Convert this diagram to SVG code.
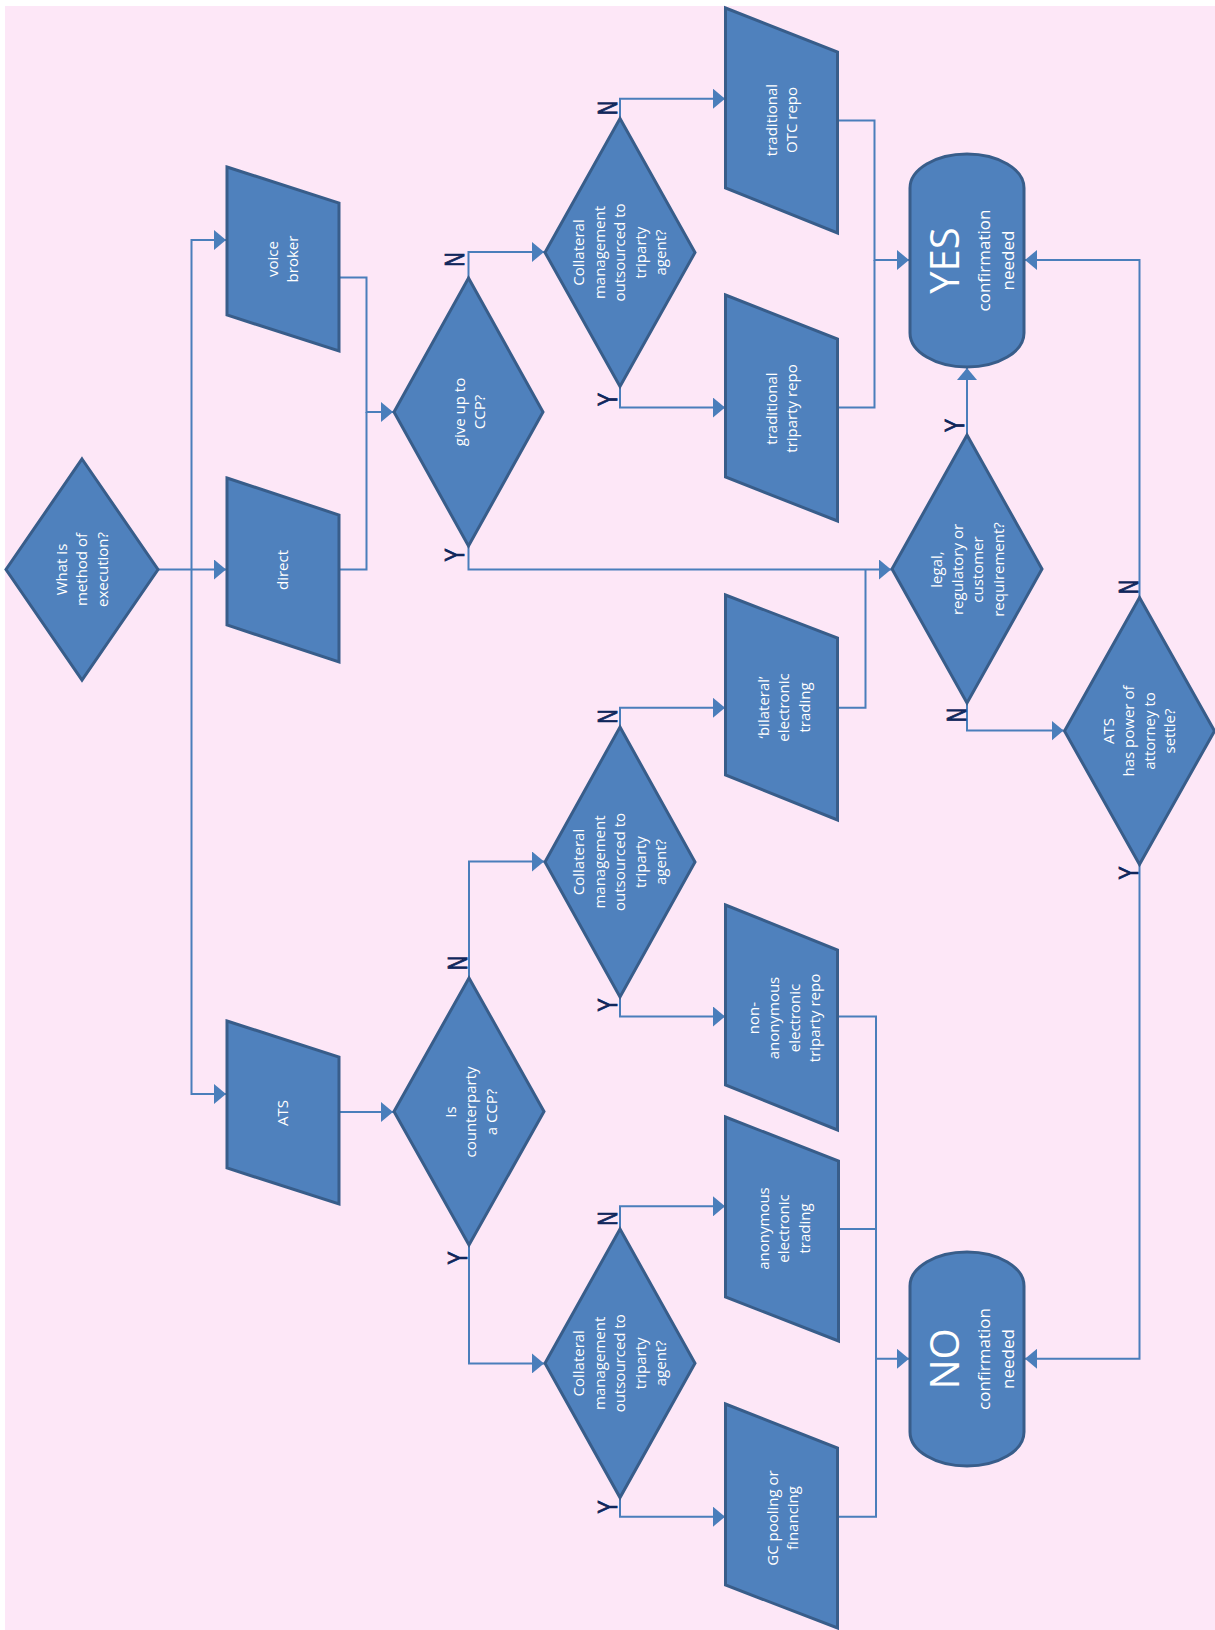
<svg xmlns="http://www.w3.org/2000/svg" width="1215" height="1630" viewBox="0 0 1215 1630">
<style>
.shape{fill:#4F81BD;stroke:#385D8A;stroke-width:3;stroke-linejoin:miter}
.t{fill:#FFFFFF;font-family:"Open Sans","Liberation Sans",sans-serif;font-size:15px;text-anchor:middle}
.big{font-size:40px}
.mid{font-size:17px}
.conn{fill:none;stroke:#4A7EBB;stroke-width:2}
.lbl{fill:#10275C;stroke:#10275C;stroke-width:0.9;font-family:"Liberation Sans","DejaVu Sans",sans-serif;font-size:28px;text-anchor:middle}
</style>
<defs>
<marker id="arr" viewBox="0 0 12 20" refX="12" refY="10" markerWidth="12" markerHeight="20" markerUnits="userSpaceOnUse" orient="auto">
<path d="M0,0 L12,10 L0,20 Z" fill="#4A7EBB"/>
</marker>
</defs>
<rect x="0" y="0" width="1215" height="1630" fill="#FFFFFF"/>
<rect x="5" y="6" width="1210" height="1624" fill="#FDE7F7"/>

<g id="connectors">
<path class="conn" d="M158,569.5 H226" marker-end="url(#arr)"/>
<path class="conn" d="M191.5,569.5 V240 H226" marker-end="url(#arr)"/>
<path class="conn" d="M191.5,569.5 V1094 H226" marker-end="url(#arr)"/>
<path class="conn" d="M339,277.5 H366.5 V412 H393" marker-end="url(#arr)"/>
<path class="conn" d="M339,569.5 H366.5 V412"/>
<path class="conn" d="M468.5,278 V252 H544" marker-end="url(#arr)"/>
<path class="conn" d="M468.5,546 V569.5 H891" marker-end="url(#arr)"/>
<path class="conn" d="M620,118.5 V98.7 H725" marker-end="url(#arr)"/>
<path class="conn" d="M620,386.5 V407.6 H725" marker-end="url(#arr)"/>
<path class="conn" d="M837.5,120.5 H874.5 V260 H909" marker-end="url(#arr)"/>
<path class="conn" d="M837.5,407.6 H874.5 V260"/>
<path class="conn" d="M837.5,707.8 H865.5 V569.5"/>
<path class="conn" d="M967,435 V368" marker-end="url(#arr)"/>
<path class="conn" d="M967,703 V730.6 H1063.5" marker-end="url(#arr)"/>
<path class="conn" d="M1139.5,597.5 V260 H1025" marker-end="url(#arr)"/>
<path class="conn" d="M1139.5,864.5 V1358.8 H1025" marker-end="url(#arr)"/>
<path class="conn" d="M339,1112 H393" marker-end="url(#arr)"/>
<path class="conn" d="M469,978 V861.5 H544" marker-end="url(#arr)"/>
<path class="conn" d="M469,1245 V1363.4 H544" marker-end="url(#arr)"/>
<path class="conn" d="M620,727 V707.8 H725" marker-end="url(#arr)"/>
<path class="conn" d="M620,997 V1016.5 H725" marker-end="url(#arr)"/>
<path class="conn" d="M837.5,1016.5 H876 V1358.8 H909" marker-end="url(#arr)"/>
<path class="conn" d="M838.5,1229 H876"/>
<path class="conn" d="M837.5,1516.7 H876 V1358.8"/>
<path class="conn" d="M620,1229 V1206.3 H725" marker-end="url(#arr)"/>
<path class="conn" d="M620,1497.6 V1516.7 H725" marker-end="url(#arr)"/>
</g>

<g id="edge-labels">
<text class="lbl" transform="translate(453.5,259.5) rotate(-90) scale(0.7,1)" y="10">N</text>
<text class="lbl" transform="translate(453.5,555) rotate(-90) scale(0.7,1)" y="10">Y</text>
<text class="lbl" transform="translate(607,108) rotate(-90) scale(0.7,1)" y="10">N</text>
<text class="lbl" transform="translate(607,399.5) rotate(-90) scale(0.7,1)" y="10">Y</text>
<text class="lbl" transform="translate(456.5,963) rotate(-90) scale(0.7,1)" y="10">N</text>
<text class="lbl" transform="translate(456.5,1258) rotate(-90) scale(0.7,1)" y="10">Y</text>
<text class="lbl" transform="translate(607,716.5) rotate(-90) scale(0.7,1)" y="10">N</text>
<text class="lbl" transform="translate(607,1005) rotate(-90) scale(0.7,1)" y="10">Y</text>
<text class="lbl" transform="translate(607,1218.5) rotate(-90) scale(0.7,1)" y="10">N</text>
<text class="lbl" transform="translate(607,1507) rotate(-90) scale(0.7,1)" y="10">Y</text>
<text class="lbl" transform="translate(954,425.5) rotate(-90) scale(0.7,1)" y="10">Y</text>
<text class="lbl" transform="translate(955.5,715) rotate(-90) scale(0.7,1)" y="10">N</text>
<text class="lbl" transform="translate(1127.5,587) rotate(-90) scale(0.7,1)" y="10">N</text>
<text class="lbl" transform="translate(1127.5,873) rotate(-90) scale(0.7,1)" y="10">Y</text>
</g>

<g id="start">
<polygon class="shape" points="82,459 158,569.5 82,680 6,569.5"/>
<text class="t" transform="translate(82,569.5) rotate(-90)"><tspan x="0" y="-15.5">What is</tspan><tspan x="0" y="5">method of</tspan><tspan x="0" y="25.5">execution?</tspan></text>
</g>

<g id="voice-broker">
<polygon class="shape" points="227,167 339,203 339,351 227,315"/>
<text class="t" transform="translate(283,259) rotate(-90)"><tspan x="0" y="-5.25">voice</tspan><tspan x="0" y="15.25">broker</tspan></text>
</g>

<g id="direct">
<polygon class="shape" points="227,478 339,515 339,662 227,625"/>
<text class="t" transform="translate(283,570) rotate(-90)"><tspan x="0" y="5">direct</tspan></text>
</g>

<g id="ats">
<polygon class="shape" points="227,1021 339,1057 339,1204 227,1168"/>
<text class="t" transform="translate(283,1113) rotate(-90)"><tspan x="0" y="5">ATS</tspan></text>
</g>

<g id="give-up">
<polygon class="shape" points="468.5,278 543,412 468.5,546 394,412"/>
<text class="t" transform="translate(470,412) rotate(-90)"><tspan x="0" y="-5.25">give up to</tspan><tspan x="0" y="15.25">CCP?</tspan></text>
</g>

<g id="is-ccp">
<polygon class="shape" points="469,978 544,1111.5 469,1245 394,1111.5"/>
<text class="t" transform="translate(471,1112) rotate(-90)"><tspan x="0" y="-15.5">Is</tspan><tspan x="0" y="5">counterparty</tspan><tspan x="0" y="25.5">a CCP?</tspan></text>
</g>

<g id="collateral-1">
<polygon class="shape" points="620,118.5 695,252.5 620,386.5 545,252.5"/>
<text class="t" transform="translate(620,252.5) rotate(-90)"><tspan x="0" y="-36">Collateral</tspan><tspan x="0" y="-15.5">management</tspan><tspan x="0" y="5">outsourced to</tspan><tspan x="0" y="25.5">triparty</tspan><tspan x="0" y="46">agent?</tspan></text>
</g>

<g id="collateral-2">
<polygon class="shape" points="620,727 695,862 620,997 545,862"/>
<text class="t" transform="translate(620,862) rotate(-90)"><tspan x="0" y="-36">Collateral</tspan><tspan x="0" y="-15.5">management</tspan><tspan x="0" y="5">outsourced to</tspan><tspan x="0" y="25.5">triparty</tspan><tspan x="0" y="46">agent?</tspan></text>
</g>

<g id="collateral-3">
<polygon class="shape" points="620,1229 695,1363.3 620,1497.6 545,1363.3"/>
<text class="t" transform="translate(620,1363.3) rotate(-90)"><tspan x="0" y="-36">Collateral</tspan><tspan x="0" y="-15.5">management</tspan><tspan x="0" y="5">outsourced to</tspan><tspan x="0" y="25.5">triparty</tspan><tspan x="0" y="46">agent?</tspan></text>
</g>

<g id="otc-repo">
<polygon class="shape" points="725.5,8 837.5,52 837.5,233 725.5,188"/>
<text class="t" transform="translate(782,120) rotate(-90)"><tspan x="0" y="-5.25">traditional</tspan><tspan x="0" y="15.25">OTC repo</tspan></text>
</g>

<g id="triparty-repo">
<polygon class="shape" points="725.5,295 837.5,339 837.5,521 725.5,477"/>
<text class="t" transform="translate(782,408.5) rotate(-90)"><tspan x="0" y="-5.25">traditional</tspan><tspan x="0" y="15.25">triparty repo</tspan></text>
</g>

<g id="bilateral">
<polygon class="shape" points="725.5,595 837.5,638 837.5,820 725.5,775"/>
<text class="t" transform="translate(784,707.5) rotate(-90)"><tspan x="0" y="-15.5">‘bilateral’</tspan><tspan x="0" y="5">electronic</tspan><tspan x="0" y="25.5">trading</tspan></text>
</g>

<g id="non-anonymous">
<polygon class="shape" points="725.5,905 837.5,950 837.5,1130 725.5,1085"/>
<text class="t" transform="translate(784.5,1018) rotate(-90)"><tspan x="0" y="-25.75">non-</tspan><tspan x="0" y="-5.25">anonymous</tspan><tspan x="0" y="15.25">electronic</tspan><tspan x="0" y="35.75">triparty repo</tspan></text>
</g>

<g id="anonymous">
<polygon class="shape" points="725.5,1117 838.5,1161 838.5,1341 725.5,1297"/>
<text class="t" transform="translate(784,1228.5) rotate(-90)"><tspan x="0" y="-15.5">anonymous</tspan><tspan x="0" y="5">electronic</tspan><tspan x="0" y="25.5">trading</tspan></text>
</g>

<g id="gc-pooling">
<polygon class="shape" points="725.5,1404 837.5,1448 837.5,1628 725.5,1585"/>
<text class="t" transform="translate(783,1518) rotate(-90)"><tspan x="0" y="-5.25">GC pooling or</tspan><tspan x="0" y="15.25">financing</tspan></text>
</g>

<g id="legal">
<polygon class="shape" points="967,435 1042,569 967,703 892,569"/>
<text class="t" transform="translate(968,569.5) rotate(-90)"><tspan x="0" y="-25.75">legal,</tspan><tspan x="0" y="-5.25">regulatory or</tspan><tspan x="0" y="15.25">customer</tspan><tspan x="0" y="35.75">requirement?</tspan></text>
</g>

<g id="ats-poa">
<polygon class="shape" points="1139.5,597.5 1214.5,731 1139.5,864.5 1064.5,731"/>
<text class="t" transform="translate(1139.5,731) rotate(-90)"><tspan x="0" y="-25.75">ATS</tspan><tspan x="0" y="-5.25">has power of</tspan><tspan x="0" y="15.25">attorney to</tspan><tspan x="0" y="35.75">settle?</tspan></text>
</g>

<g id="yes">
<rect class="shape" x="910" y="154" width="114" height="213" rx="57" ry="34"/>
<text class="t" transform="translate(967,260.5) rotate(-90)"><tspan class="big" x="0" y="-8">YES</tspan><tspan class="mid" x="0" y="23">confirmation</tspan><tspan class="mid" x="0" y="46.5">needed</tspan></text>
</g>

<g id="no">
<rect class="shape" x="910" y="1252" width="114" height="214" rx="57" ry="34"/>
<text class="t" transform="translate(967,1359) rotate(-90)"><tspan class="big" x="0" y="-8">NO</tspan><tspan class="mid" x="0" y="23">confirmation</tspan><tspan class="mid" x="0" y="46.5">needed</tspan></text>
</g>
</svg>
